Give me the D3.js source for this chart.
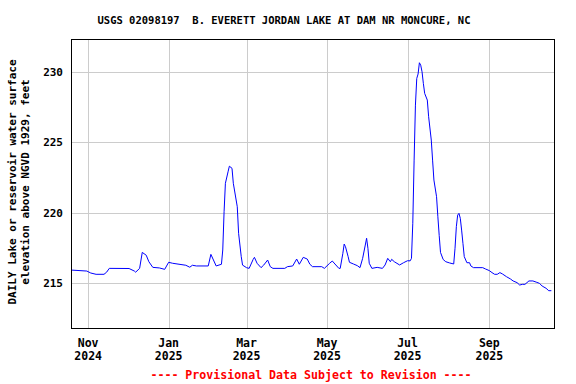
<!DOCTYPE html>
<html>
<head>
<meta charset="utf-8">
<script src="https://cdn.jsdelivr.net/npm/d3@7"></script>
<style>
  body { margin: 0; background: #fff; }
  svg text { font-family: "DejaVu Sans Mono", "Liberation Mono", monospace; font-weight: bold; }
</style>
</head>
<body>
<svg id="chart"></svg>
<script>
// daily lake elevation
const dates = [
  '2024-10-19','2024-10-31','2024-11-03','2024-11-07','2024-11-13','2024-11-15','2024-11-17','2024-12-02',
  '2024-12-06','2024-12-07','2024-12-10','2024-12-12','2024-12-15','2024-12-17','2024-12-20','2024-12-25',
  '2024-12-29','2025-01-01','2025-01-04','2025-01-14','2025-01-17','2025-01-19','2025-01-22','2025-01-31',
  '2025-02-02','2025-02-06','2025-02-10','2025-02-11','2025-02-12','2025-02-13','2025-02-15','2025-02-16',
  '2025-02-18','2025-02-19','2025-02-22','2025-02-23','2025-02-25','2025-02-26','2025-03-01','2025-03-03',
  '2025-03-06','2025-03-07','2025-03-09','2025-03-12','2025-03-14','2025-03-17','2025-03-19','2025-03-21',
  '2025-03-30','2025-04-01','2025-04-05','2025-04-08','2025-04-10','2025-04-13','2025-04-16','2025-04-18',
  '2025-04-20','2025-04-27','2025-04-29','2025-05-03','2025-05-05','2025-05-07','2025-05-10','2025-05-11',
  '2025-05-13','2025-05-14','2025-05-15','2025-05-17','2025-05-18','2025-05-21','2025-05-24','2025-05-26',
  '2025-05-28','2025-05-30','2025-05-31','2025-06-01','2025-06-02','2025-06-04','2025-06-08','2025-06-12',
  '2025-06-14','2025-06-16','2025-06-18','2025-06-19','2025-06-21','2025-06-25','2025-06-28','2025-07-01',
  '2025-07-03','2025-07-04','2025-07-05','2025-07-06','2025-07-07','2025-07-08','2025-07-09','2025-07-10',
  '2025-07-11','2025-07-12','2025-07-13','2025-07-14','2025-07-16','2025-07-17','2025-07-19','2025-07-20',
  '2025-07-21','2025-07-23','2025-07-24','2025-07-25','2025-07-26','2025-07-28','2025-07-30','2025-08-02',
  '2025-08-05','2025-08-06','2025-08-07','2025-08-08','2025-08-09','2025-08-10','2025-08-11','2025-08-12',
  '2025-08-13','2025-08-15','2025-08-17','2025-08-18','2025-08-20','2025-08-27','2025-08-29','2025-09-01',
  '2025-09-03','2025-09-05','2025-09-07','2025-09-09','2025-09-11','2025-09-14','2025-09-17','2025-09-19',
  '2025-09-22','2025-09-24','2025-09-26','2025-09-28','2025-10-01','2025-10-04','2025-10-07','2025-10-09',
  '2025-10-11','2025-10-14','2025-10-16','2025-10-18'
];
const elevation = [
  215.95,215.88,215.74,215.65,215.65,215.80,216.07,216.06,
  215.88,215.80,216.07,217.20,217.00,216.54,216.14,216.10,
  216.00,216.50,216.43,216.29,216.15,216.29,216.24,216.24,
  217.06,216.24,216.36,217.37,220.08,222.09,222.90,223.30,
  223.15,222.09,220.43,218.55,216.90,216.30,216.12,216.07,
  216.70,216.85,216.43,216.12,216.30,216.66,216.19,216.07,
  216.07,216.19,216.24,216.73,216.36,216.85,216.73,216.36,
  216.19,216.19,216.07,216.43,216.59,216.38,216.07,216.07,
  217.13,217.79,217.60,216.90,216.50,216.38,216.26,216.12,
  216.78,217.72,218.20,217.49,216.43,216.07,216.14,216.07,
  216.31,216.78,216.54,216.71,216.54,216.31,216.47,216.61,
  216.60,216.78,219.26,223.73,227.62,229.51,229.82,230.62,
  230.45,229.98,229.16,228.45,227.98,226.80,225.15,223.73,
  222.32,221.14,219.72,218.40,217.20,216.70,216.54,216.45,
  216.38,217.49,219.02,219.84,219.96,219.61,218.78,217.84,
  216.90,216.47,216.47,216.24,216.12,216.12,216.03,215.91,
  215.77,215.65,215.65,215.77,215.67,215.48,215.32,215.18,
  215.06,214.89,214.94,214.94,215.18,215.18,215.08,215.01,
  214.82,214.66,214.49,214.49
];
const yTicks = [215, 220, 225, 230];
const xTicks = ['2024-11-01','2025-01-01','2025-03-01','2025-05-01','2025-07-01','2025-09-01'];
const xDomain = ['2024-10-19','2025-10-20'];
const yDomain = [211.85, 232.3];

const W = 576, H = 384;
const margin = { top: 39, right: 22, bottom: 56, left: 71 };
const parse = d3.timeParse('%Y-%m-%d');
const data = dates.map((d, i) => ({ date: parse(d), value: elevation[i] }));

const svg = d3.select('#chart').attr('width', W).attr('height', H);

const x = d3.scaleTime().domain(xDomain.map(parse)).range([margin.left, W - margin.right]);
const y = d3.scaleLinear().domain(yDomain).range([H - margin.bottom, margin.top]);

// grid
svg.append('g').selectAll('line').data(xTicks.map(parse)).enter().append('line')
  .attr('x1', d => Math.round(x(d)) + 0.5).attr('x2', d => Math.round(x(d)) + 0.5)
  .attr('y1', margin.top).attr('y2', H - margin.bottom)
  .attr('stroke', '#cccccc').attr('stroke-width', 1);
svg.append('g').selectAll('line').data(yTicks).enter().append('line')
  .attr('y1', d => Math.round(y(d)) + 0.5).attr('y2', d => Math.round(y(d)) + 0.5)
  .attr('x1', margin.left).attr('x2', W - margin.right)
  .attr('stroke', '#cccccc').attr('stroke-width', 1);

// the series
const line = d3.line().x(d => x(d.date)).y(d => y(d.value));
svg.append('path').datum(data)
  .attr('d', line)
  .attr('fill', 'none')
  .attr('stroke', '#0000ff')
  .attr('stroke-width', 1);

// frame
svg.append('rect')
  .attr('x', margin.left + 0.5).attr('y', margin.top + 0.5)
  .attr('width', W - margin.left - margin.right).attr('height', H - margin.top - margin.bottom)
  .attr('fill', 'none').attr('stroke', '#000').attr('stroke-width', 1);

// y tick labels
svg.append('g').selectAll('text').data(yTicks).enter().append('text')
  .attr('x', margin.left - 8).attr('y', d => y(d) + 4)
  .attr('text-anchor', 'end').attr('font-size', '11px').attr('fill', '#000')
  .text(d => d);

// x tick labels, two lines
const fmtM = d3.timeFormat('%b'), fmtY = d3.timeFormat('%Y');
const xl = svg.append('g').selectAll('text').data(xTicks.map(parse)).enter().append('text')
  .attr('text-anchor', 'middle').attr('font-size', '11.5px').attr('fill', '#000');
xl.append('tspan').attr('x', d => x(d)).attr('y', 347).text(d => fmtM(d));
xl.append('tspan').attr('x', d => x(d)).attr('y', 360).text(d => fmtY(d));

// title
svg.append('text')
  .attr('x', 284).attr('y', 24)
  .attr('text-anchor', 'middle').attr('font-size', '10.5px').attr('fill', '#000')
  .attr('xml:space', 'preserve')
  .text('USGS 02098197  B. EVERETT JORDAN LAKE AT DAM NR MONCURE, NC');

// y axis title
const yt = svg.append('text')
  .attr('transform', 'translate(0,182) rotate(-90)')
  .attr('text-anchor', 'middle').attr('font-size', '11px').attr('fill', '#000');
yt.append('tspan').attr('x', 0).attr('y', 16).text('DAILY Lake or reservoir water surface');
yt.append('tspan').attr('x', 0).attr('y', 29).text('elevation above NGVD 1929, feet');

// footer
svg.append('text')
  .attr('x', 311).attr('y', 379)
  .attr('text-anchor', 'middle').attr('font-size', '11.6px').attr('fill', '#ff0000')
  .text('---- Provisional Data Subject to Revision ----');
</script>
</body>
</html>
